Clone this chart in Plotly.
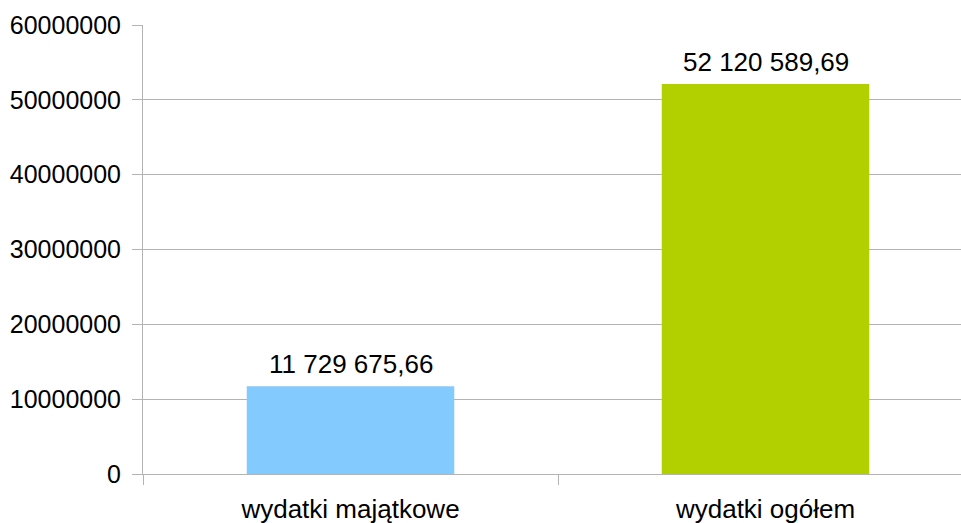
import plotly.graph_objects as go

categories = ["wydatki majątkowe", "wydatki ogółem"]
values = [11729675.66, 52120589.69]
colors = ["#83caff", "#b2d000"]
y_ticks = [0, 10000000, 20000000, 30000000, 40000000, 50000000, 60000000]

FONT = "Liberation Sans, Arial, sans-serif"


def pl_fmt(v):
    return f"{v:,.2f}".replace(",", " ").replace(".", ",")


fig = go.Figure(
    go.Bar(
        x=categories,
        y=values,
        marker=dict(color=colors, line=dict(width=0)),
        hoverinfo="skip",
    )
)

for c, v in zip(categories, values):
    fig.add_annotation(
        x=c, y=v, text=pl_fmt(v), showarrow=False,
        yanchor="bottom", yshift=5,
        font=dict(size=26, color="#000000", family=FONT),
    )

fig.update_layout(
    width=961,
    height=523,
    margin=dict(l=143, r=0, t=24.5, b=48.5),
    paper_bgcolor="white",
    plot_bgcolor="white",
    bargap=0.5,
    showlegend=False,
    font=dict(family=FONT, size=25, color="#000000"),
)

fig.update_xaxes(
    type="category",
    range=[-0.5, 1.471],
    tickson="boundaries",
    ticks="outside",
    ticklen=10,
    tickcolor="#b3b3b3",
    tickwidth=1,
    ticklabelstandoff=12,
    showline=True,
    linecolor="#b3b3b3",
    linewidth=1,
    showgrid=False,
    tickfont=dict(size=26),
)

fig.update_yaxes(
    range=[0, 60000000],
    tickvals=y_ticks,
    tickformat="d",
    ticks="outside",
    ticklen=10,
    tickcolor="#b3b3b3",
    tickwidth=1,
    ticklabelstandoff=6,
    showline=True,
    linecolor="#b3b3b3",
    linewidth=1,
    showgrid=True,
    gridcolor="#b3b3b3",
    gridwidth=1,
    zeroline=False,
    tickfont=dict(size=25),
)

fig.write_html(
    "out.html",
    config={"displayModeBar": False},
    post_script="document.body.style.margin='0';document.body.style.overflow='hidden';",
)
